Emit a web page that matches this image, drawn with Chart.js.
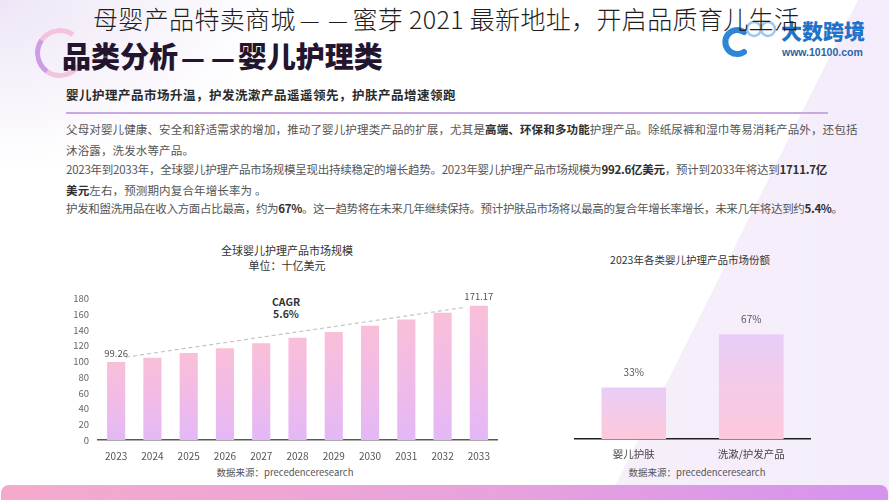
<!DOCTYPE html>
<html lang="zh-CN">
<head>
<meta charset="utf-8">
<script src="https://cdn.jsdelivr.net/npm/chart.js@4.4.1/dist/chart.umd.min.js"></script>
<style>
  html, body { margin:0; padding:0; }
  body {
    width:889px; height:500px; overflow:hidden; position:relative;
    font-family:"Noto Sans CJK SC","Noto Sans",sans-serif;
    background:#ffffff;
  }
  .abs { position:absolute; white-space:nowrap; }
  .bgTint {
    position:absolute; left:0; top:0; width:889px; height:500px;
    background: radial-gradient(ellipse 280px 170px at 0px 0px, #eee6f6 0%, rgba(255,255,255,0) 100%);
  }
  .diag {
    position:absolute; left:0; top:0; width:889px; height:500px;
    background: linear-gradient(90deg, #fbf8fd 0%, #f4ecfa 100%);
    clip-path: polygon(858px 0px, 889px 0px, 889px 500px, 608px 500px);
  }
  .ring {
    position:absolute; left:35px; top:28px; width:40px; height:40px; border-radius:50%;
    border:5px solid; border-color:#f2bddb transparent #f2bddb #c88de4;
    transform: rotate(-10deg);
    opacity:0.85;
  }
  .dash { display:inline-block; font-size:0.9em; margin:0 3px; }
  .dashH { display:inline-block; font-size:0.9em; margin:0 4px; }
  .body-line { font-size:11.5px; color:#555; line-height:16px; }
  .body-line b { color:#2e2e2e; font-weight:700; }
  .banner {
    position:absolute; left:1px; top:485px; width:887px; height:20px; border-radius:8px 8px 0 0;
    background: linear-gradient(90deg, #f5aacb 0%, #e8a2dc 55%, #d593ee 100%);
  }
  canvas { position:absolute; }
</style>
</head>
<body>
<div class="bgTint"></div>
<div class="diag"></div>
<div class="ring"></div>

<div class="abs" style="left:62px; top:38px; font-size:29px; line-height:34px; font-weight:900; color:#24152f;">品类分析<span class="dash">—</span><span class="dash">—</span>婴儿护理类</div>

<!-- logo -->
<svg class="abs" style="left:718px; top:18px;" width="62" height="42" viewBox="0 0 62 42">
  <path d="M26 14 A12 12 0 1 0 26 34" fill="none" stroke="#2f86d6" stroke-width="6" stroke-linecap="round"/>
  <circle cx="36" cy="11" r="7" fill="none" stroke="#9cc8ee" stroke-width="2.5"/>
  <circle cx="50" cy="11" r="7" fill="none" stroke="#9cc8ee" stroke-width="2.5"/>
</svg>
<div class="abs" style="left:781px; top:17px; font-size:21px; line-height:26px; font-weight:900; color:#1f73c9;">大数跨境</div>
<div class="abs" style="left:782px; top:45px; font-size:10.5px; line-height:14px; font-weight:700; color:#2a63a8; font-family:'Liberation Sans','DejaVu Sans',sans-serif;">www.10100.com</div>

<div class="abs" style="left:93px; top:3px; font-size:25px; line-height:30px; font-weight:300; letter-spacing:0.35px; color:#1e1e1e;">母婴产品特卖商城<span class="dashH">—</span><span class="dashH">—</span>蜜芽 2021 最新地址，开启品质育儿生活</div>

<div class="abs" style="left:66px; top:87px; font-size:12.5px; line-height:16px; font-weight:700; letter-spacing:0.5px; color:#2b2b2b;">婴儿护理产品市场升温，护发洗漱产品遥遥领先，护肤产品增速领跑</div>
<div class="abs" style="left:66px; top:112px; width:762px; height:1.5px; background:#c9a9e2;"></div>

<div class="abs body-line" style="left:66px; top:121px; letter-spacing:0.14px;">父母对婴儿健康、安全和舒适需求的增加，推动了婴儿护理类产品的扩展，尤其是<b>高端、环保和多功能</b>护理产品。除纸尿裤和湿巾等易消耗产品外，还包括</div>
<div class="abs body-line" style="left:66px; top:142px; letter-spacing:0.14px;">沐浴露，洗发水等产品。</div>
<div class="abs body-line" style="left:66px; top:161px; letter-spacing:-0.24px;">2023年到2033年，全球婴儿护理产品市场规模呈现出持续稳定的增长趋势。2023年婴儿护理产品市场规模为<b>992.6亿美元</b>，预计到2033年将达到<b>1711.7亿</b></div>
<div class="abs body-line" style="left:66px; top:182px; letter-spacing:0.14px;"><b>美元</b>左右，预测期内复合年增长率为 。</div>
<div class="abs body-line" style="left:66px; top:200px; letter-spacing:-0.33px;">护发和盥洗用品在收入方面占比最高，约为<b>67%</b>。这一趋势将在未来几年继续保持。预计护肤品市场将以最高的复合年增长率增长，未来几年将达到约<b>5.4%</b>。</div>

<!-- left chart texts -->
<div class="abs" style="left:187px; width:200px; text-align:center; top:242px; font-size:11px; line-height:16px; color:#333;">全球婴儿护理产品市场规模</div>
<div class="abs" style="left:187px; width:200px; text-align:center; top:257px; font-size:11px; line-height:16px; color:#333;">单位：十亿美元</div>
<div class="abs" style="left:236px; width:100px; text-align:center; top:296px; font-size:10.5px; line-height:12px; font-weight:700; color:#333;">CAGR<br>5.6%</div>
<div class="abs" style="left:185px; width:200px; text-align:center; top:465px; font-size:9.5px; line-height:14px; color:#555;">数据来源：precedenceresearch</div>

<!-- right chart texts -->
<div class="abs" style="left:590px; width:200px; text-align:center; top:252px; font-size:10.5px; line-height:16px; color:#333;">2023年各类婴儿护理产品市场份额</div>
<div class="abs" style="left:597px; width:200px; text-align:center; top:465px; font-size:9.5px; line-height:14px; color:#555;">数据来源：precedenceresearch</div>

<canvas id="left" width="450" height="184" style="left:60px; top:284px;"></canvas>
<canvas id="right" width="270" height="160" style="left:560px; top:300px;"></canvas>

<div class="banner"></div>

<script>
// ---- data ----
const years = ['2023','2024','2025','2026','2027','2028','2029','2030','2031','2032','2033'];
const marketSize = [99.26, 104.8, 110.7, 116.9, 123.4, 130.3, 137.6, 145.4, 153.5, 162.1, 171.17];
const marketLabels = ['99.26', '', '', '', '', '', '', '', '', '', '171.17'];
const shareCategories = ['婴儿护肤', '洗漱/护发产品'];
const shareValues = [33, 67];
const shareLabels = ['33%', '67%'];

Chart.defaults.font.family = '"Noto Sans CJK SC","Noto Sans",sans-serif';
Chart.defaults.animation = false;

function barGradient(ctx, topColor, midColor, bottomColor) {
  const chart = ctx.chart;
  const area = chart.chartArea;
  if (!area || ctx.type !== 'data') return topColor;
  const v = ctx.raw;
  const y = chart.scales.y.getPixelForValue(v);
  const g = chart.ctx.createLinearGradient(0, y, 0, area.bottom);
  g.addColorStop(0, topColor);
  g.addColorStop(0.45, midColor);
  g.addColorStop(1, bottomColor);
  return g;
}

const leftLabelsPlugin = {
  id: 'leftLabels',
  afterDatasetsDraw(chart) {
    const c = chart.ctx;
    const meta = chart.getDatasetMeta(0);
    const ys = chart.scales.y;
    c.save();
    // dashed CAGR line from first to last bar
    const first = meta.data[0], last = meta.data[meta.data.length - 1];
    c.setLineDash([4, 3]);
    c.strokeStyle = '#c4c4c4';
    c.lineWidth = 1.2;
    c.beginPath();
    c.moveTo(first.x + first.width / 2 + 1, ys.getPixelForValue(marketSize[0]) - 5);
    c.lineTo(last.x - last.width / 2 - 7, ys.getPixelForValue(marketSize[marketSize.length - 1]) + 2);
    c.stroke();
    c.setLineDash([]);
    // value labels
    c.fillStyle = '#555';
    c.font = '9.5px "Noto Sans CJK SC","Noto Sans",sans-serif';
    c.textAlign = 'center';
    c.textBaseline = 'middle';
    meta.data.forEach((bar, i) => {
      if (marketLabels[i]) c.fillText(marketLabels[i], bar.x, bar.y - 9);
    });
    c.restore();
  }
};

new Chart(document.getElementById('left'), {
  type: 'bar',
  data: {
    labels: years,
    datasets: [{
      data: marketSize,
      backgroundColor: (ctx) => barGradient(ctx, '#f9bfd9', '#f2bbe5', '#e3b8f7'),
      barPercentage: 0.5,
      categoryPercentage: 1.0,
      borderWidth: 0
    }]
  },
  options: {
    responsive: false,
    layout: { padding: { top: 10, right: 13, left: 0, bottom: 0 } },
    plugins: { legend: { display: false }, tooltip: { enabled: false } },
    scales: {
      y: {
        min: 0, max: 180,
        ticks: { stepSize: 20, color: '#666', font: { size: 9.5 }, padding: 9 },
        grid: { display: false, drawTicks: false },
        border: { display: false },
        afterFit: (s) => { s.width = 38; }
      },
      x: {
        ticks: { color: '#555', font: { size: 10 }, padding: 10 },
        grid: { display: false, drawTicks: false },
        border: { display: true, color: '#5a5a5a', width: 1.5 },
        afterFit: (s) => { s.height = 28; }
      }
    }
  },
  plugins: [leftLabelsPlugin]
});

const rightLabelsPlugin = {
  id: 'rightLabels',
  afterDatasetsDraw(chart) {
    const c = chart.ctx;
    const meta = chart.getDatasetMeta(0);
    c.save();
    c.fillStyle = '#555';
    c.font = '10px "Noto Sans CJK SC","Noto Sans",sans-serif';
    c.textAlign = 'center';
    c.textBaseline = 'middle';
    meta.data.forEach((bar, i) => c.fillText(shareLabels[i], bar.x, bar.y - 15));
    c.restore();
  }
};

new Chart(document.getElementById('right'), {
  type: 'bar',
  data: {
    labels: shareCategories,
    datasets: [{
      data: shareValues,
      backgroundColor: (ctx) => barGradient(ctx, '#e8cdf8', '#f3cbea', '#fdc8db'),
      barPercentage: 0.55,
      categoryPercentage: 1.0,
      borderWidth: 0
    }]
  },
  options: {
    responsive: false,
    layout: { padding: { top: 14, right: 20, left: 15, bottom: 0 } },
    plugins: { legend: { display: false }, tooltip: { enabled: false } },
    scales: {
      y: { display: false, min: 0, max: 80 },
      x: {
        ticks: { color: '#444', font: { size: 10.5 }, padding: 9 },
        grid: { display: false, drawTicks: false },
        border: { display: true, color: '#1e1e1e', width: 1.5 },
        afterFit: (s) => { s.height = 21; }
      }
    }
  },
  plugins: [rightLabelsPlugin]
});
</script>
</body>
</html>
